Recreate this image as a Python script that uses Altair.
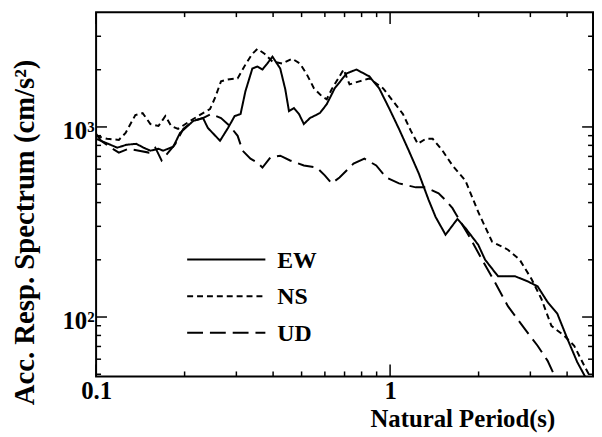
import altair as alt
import pandas as pd

# ---- data ----
ew_period = [0.100, 0.106, 0.118, 0.127, 0.137, 0.145, 0.153, 0.163, 0.169, 0.183, 0.193, 0.214,
             0.231, 0.240, 0.264, 0.281, 0.296, 0.310, 0.322, 0.340, 0.354, 0.368, 0.382, 0.398,
             0.423, 0.440, 0.453, 0.471, 0.490, 0.509, 0.534, 0.577, 0.609, 0.648, 0.711, 0.768,
             0.850, 0.918, 0.992, 1.072, 1.158, 1.252, 1.353, 1.428, 1.544, 1.694, 1.803, 1.994,
             2.105, 2.328, 2.657, 2.938, 3.175, 3.431, 3.707, 4.006, 4.329, 4.642]
ew_acc = [866, 835, 778, 806, 815, 778, 750, 768, 750, 787, 930, 1075,
          1114, 988, 846, 988, 1141, 1169, 1540, 2028, 2080, 2005, 2154, 2344,
          2028, 1578, 1211, 1256, 1169, 1036, 1114, 1183, 1318, 1596, 1911, 2005,
          1845, 1596, 1256, 977, 750, 569, 412, 336, 271, 328, 294, 240,
          200, 164, 164, 154, 145, 120, 104, 77, 58, 47.5]

ns_period = [0.100, 0.109, 0.1195, 0.126, 0.136, 0.144, 0.153, 0.163, 0.172, 0.180, 0.190, 0.214,
             0.231, 0.244, 0.2535, 0.266, 0.2805, 0.303, 0.322, 0.340, 0.354, 0.374, 0.398, 0.430,
             0.464, 0.494, 0.521, 0.551, 0.586, 0.609, 0.633, 0.695, 0.728, 0.786, 0.850, 0.947,
             1.024, 1.106, 1.177, 1.242, 1.322, 1.396, 1.508, 1.630, 1.803, 1.994, 2.223, 2.516,
             2.761, 3.030, 3.275, 3.538, 3.914, 4.229, 4.571, 4.826]
ns_acc = [898, 866, 855, 930, 1155, 1183, 1036, 1012, 1141, 1012, 977, 1101,
          1183, 1241, 1416, 1738, 1778, 1800, 2128, 2427, 2577, 2427, 2208, 2154,
          2287, 2154, 1889, 1596, 1450, 1399, 1578, 2005, 1675, 1738, 1800, 1596,
          1366, 1169, 953, 815, 866, 866, 750, 627, 523, 357, 249, 226,
          200, 158, 124, 89.8, 79.7, 70.6, 55.6, 47.5]

ud_period = [0.100, 0.104, 0.111, 0.1195, 0.129, 0.140, 0.151, 0.159, 0.167, 0.186, 0.198, 0.214,
             0.231, 0.246, 0.266, 0.285, 0.303, 0.315, 0.335, 0.354, 0.368, 0.3915, 0.423, 0.457,
             0.509, 0.5635, 0.5995, 0.633, 0.673, 0.751, 0.818, 0.897, 0.970, 1.072, 1.223, 1.322,
             1.462, 1.544, 1.630, 1.668, 1.845, 2.056, 2.275, 2.516, 2.871, 3.175, 3.431, 3.622]
ud_acc = [920, 846, 787, 733, 768, 750, 733, 778, 666, 815, 977, 1075,
          1114, 1169, 1114, 1012, 898, 750, 681, 649, 611, 690, 706, 666,
          627, 611, 556, 505, 542, 641, 681, 627, 542, 505, 481, 481,
          448, 412, 374, 352, 271, 200, 152, 114, 86.6, 70.6, 59.0, 49.3]

series_names = ["EW", "NS", "UD"]

x_major_ticks = [0.1, 1]
x_minor_ticks = [0.2, 0.3, 0.4, 0.5, 0.6, 0.7, 0.8, 0.9, 2, 3, 4]
y_major_ticks = [100, 1000]
y_minor_ticks = [50, 60, 70, 80, 90, 200, 300, 400, 500, 600, 700, 800, 900, 2000, 3000]

# ---- layout / style ----
W, H = 502, 368
FONT = "Liberation Serif"
dashes = {"EW": [1, 0], "NS": [6, 4], "UD": [16, 7]}

frames = []
for name, p, a in [("EW", ew_period, ew_acc), ("NS", ns_period, ns_acc), ("UD", ud_period, ud_acc)]:
    frames.append(pd.DataFrame({"period": p, "acc": a, "series": name}))
df = pd.concat(frames, ignore_index=True)

xs = alt.Scale(type="log", domain=[0.1, 4.9], nice=False)
ys = alt.Scale(type="log", domain=[48.7, 4018], nice=False)

x_axis = alt.Axis(values=x_major_ticks, labelExpr="datum.value < 0.5 ? '0.1' : '1'",
                  ticks=False, domain=False, grid=False, labelFont=FONT, labelFontSize=25,
                  labelFontWeight="bold", labelColor="black", labelPadding=2, labelFlush=False,
                  title="Natural Period(s)", titleFont=FONT, titleFontSize=25,
                  titleFontWeight="bold", titleColor="black", titleX=370, titleY=51,
                  titleAlign="center", titleBaseline="alphabetic")
y_axis = alt.Axis(values=y_major_ticks, labelExpr="datum.value < 500 ? '10²' : '10³'",
                  ticks=False, domain=False, grid=False, labelFont=FONT, labelFontSize=25,
                  labelFontWeight="bold", labelColor="black", labelPadding=2, labelOffset=4,
                  labelFlush=False,
                  title="Acc. Resp. Spectrum (cm/s²)", titleFont=FONT, titleFontSize=29,
                  titleFontWeight="bold", titleColor="black", titleX=-72, titleY=222,
                  titleAngle=270, titleAlign="center", titleBaseline="middle")

lines = alt.Chart(df).mark_line(strokeWidth=2, color="black", clip=True).encode(
    x=alt.X("period:Q", scale=xs, axis=x_axis),
    y=alt.Y("acc:Q", scale=ys, axis=y_axis),
    strokeDash=alt.StrokeDash("series:N", scale=alt.Scale(domain=series_names,
                              range=[dashes[s] for s in series_names]), legend=None),
    detail="series:N",
)

layers = [lines]


def xticks(vals, length):
    d = pd.DataFrame({"period": vals})
    base = alt.Chart(d).mark_rule(color="black", strokeWidth=1.5)
    bottom = base.encode(x=alt.X("period:Q", scale=xs, axis=x_axis), y=alt.value(H), y2=alt.value(H - length))
    top = base.encode(x=alt.X("period:Q", scale=xs, axis=x_axis), y=alt.value(0), y2=alt.value(length))
    return [bottom, top]


def yticks(vals, length):
    d = pd.DataFrame({"acc": vals})
    base = alt.Chart(d).mark_rule(color="black", strokeWidth=1.5)
    left = base.encode(y=alt.Y("acc:Q", scale=ys, axis=y_axis), x=alt.value(0), x2=alt.value(length))
    right = base.encode(y=alt.Y("acc:Q", scale=ys, axis=y_axis), x=alt.value(W), x2=alt.value(W - length))
    return [left, right]


layers += xticks(x_major_ticks, 12) + xticks(x_minor_ticks, 5)
layers += yticks(y_major_ticks, 11) + yticks(y_minor_ticks, 5)

# legend drawn inside the plot
for i, name in enumerate(series_names):
    yy = 250 + 37 * i
    layers.append(alt.Chart(pd.DataFrame({"s": [name]})).mark_rule(
        color="black", strokeWidth=2, strokeDash=dashes[name]).encode(
        x=alt.value(92), x2=alt.value(171), y=alt.value(yy)))
    layers.append(alt.Chart(pd.DataFrame({"s": [name]})).mark_text(
        align="left", baseline="middle", font=FONT, fontSize=24, fontWeight="bold",
        color="black").encode(x=alt.value(183), y=alt.value(yy + 1), text="s:N"))

chart = alt.layer(*layers).properties(
    width=W, height=H,
    autosize=alt.AutoSizeParams(type="none"),
    padding={"left": 89, "top": 2, "right": 1, "bottom": 57},
    background="white",
).configure_view(stroke="black", strokeWidth=2)

chart.save("out.html", embed_options={"renderer": "svg", "actions": False})
